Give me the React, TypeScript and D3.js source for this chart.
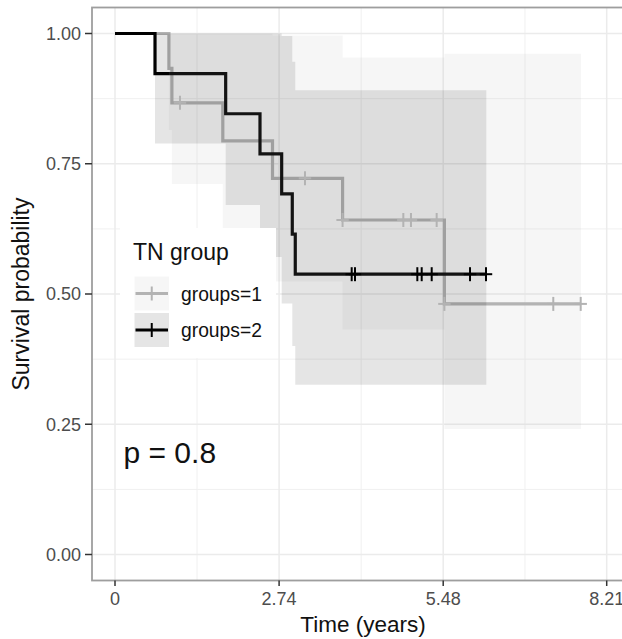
import React from "react";
import * as d3 from "d3";

// Kaplan–Meier estimates per TN group (time in years)
const group1Times = [0, 0.9, 0.95, 1.8, 2.63, 3.8, 5.5, 7.78];
const group1Surv = [1, 0.933, 0.867, 0.794, 0.722, 0.642, 0.481, 0.481];
const group1Lower = [1, 0.815, 0.711, 0.612, 0.524, 0.432, 0.241, 0.241];
const group1Upper = [1, 1, 1, 1, 0.996, 0.954, 0.961, 0.961];
const group1Censor = [1.085, 3.172, 3.8, 4.814, 4.942, 5.371, 5.5, 7.318, 7.776];

const group2Times = [0, 0.668, 1.848, 2.421, 2.783, 2.96, 3.01, 6.2];
const group2Surv = [1, 0.923, 0.846, 0.769, 0.692, 0.615, 0.538, 0.538];
const group2Lower = [1, 0.789, 0.671, 0.571, 0.482, 0.4, 0.326, 0.326];
const group2Upper = [1, 1, 1, 1, 0.995, 0.946, 0.891, 0.891];
const group2Censor = [3.952, 4.007, 5.048, 5.121, 5.288, 5.928, 6.195];

const xBreaks = [0, 2.74, 5.48, 8.21];
const xMinor = [1.37, 4.11, 6.845];
const yBreaks = [0, 0.25, 0.5, 0.75, 1];
const yMinor = [0.125, 0.375, 0.625, 0.875];
const xTickLabels = ["0", "2.74", "5.48", "8.21"];
const yTickLabels = ["0.00", "0.25", "0.50", "0.75", "1.00"];

const legendTitle = "TN group";
const groupLabels = ["groups=1", "groups=2"];
const pValueLabel = "p = 0.8";

const W = 622;
const H = 639;
const panel = { left: 92, top: 7.5, right: 640, bottom: 580.5 };
const FONT = "'Liberation Sans', Arial, Helvetica, sans-serif";

const colors = ["#b3b3b3", "#000000"];

type Row = { t: number; s: number; lo: number; hi: number };

function rows(times: number[], surv: number[], lo: number[], hi: number[]): Row[] {
  return times.map((t, i) => ({ t, s: surv[i], lo: lo[i], hi: hi[i] }));
}

function survAt(times: number[], surv: number[], t: number) {
  let v = surv[0];
  for (let i = 0; i < times.length; i++) if (times[i] <= t + 1e-9) v = surv[i];
  return v;
}

export default function App() {
  const x = d3.scaleLinear().domain([0, 8.21]).range([115, 606.7]);
  const y = d3.scaleLinear().domain([0, 1]).range([554.5, 33.5]);

  const groups = [
    { data: rows(group1Times, group1Surv, group1Lower, group1Upper), times: group1Times, surv: group1Surv, censor: group1Censor, color: colors[0], fillOpacity: 0.12 },
    { data: rows(group2Times, group2Surv, group2Lower, group2Upper), times: group2Times, surv: group2Surv, censor: group2Censor, color: colors[1], fillOpacity: 0.1 },
  ];

  const line = d3
    .line<Row>()
    .x((d) => x(d.t))
    .y((d) => y(d.s))
    .curve(d3.curveStepAfter);
  const area = d3
    .area<Row>()
    .x((d) => x(d.t))
    .y0((d) => y(d.lo))
    .y1((d) => y(d.hi))
    .curve(d3.curveStepAfter);

  const cs = 6.2; // censor mark half size
  const plus = (cx: number, cy: number, color: string, key: string) => (
    <g key={key} stroke={color} strokeWidth={2}>
      <line x1={cx - cs} x2={cx + cs} y1={cy} y2={cy} />
      <line x1={cx} x2={cx} y1={cy - cs - 0.8} y2={cy + cs + 0.8} />
    </g>
  );

  const legend = { left: 120, top: 228, right: 276, bottom: 358 };
  const keyX0 = 134.5;
  const keyW = 34.5;
  const keyTops = [276.5, 313];
  const keyH = 34;

  return (
    <svg
      width={W}
      height={H}
      style={{ position: "absolute", left: 0, top: 0, background: "#fff" }}
      fontFamily={FONT}
    >
      <defs>
        <clipPath id="panel-clip">
          <rect x={panel.left} y={panel.top} width={panel.right - panel.left} height={panel.bottom - panel.top} />
        </clipPath>
      </defs>
      <rect x={0} y={0} width={W} height={H} fill="#fff" />

      <g clipPath="url(#panel-clip)">
        {/* grid */}
        {yMinor.map((v) => (
          <line key={"ym" + v} x1={panel.left} x2={panel.right} y1={y(v)} y2={y(v)} stroke="#f0f0f0" strokeWidth={1} />
        ))}
        {xMinor.map((v) => (
          <line key={"xm" + v} y1={panel.top} y2={panel.bottom} x1={x(v)} x2={x(v)} stroke="#f0f0f0" strokeWidth={1} />
        ))}
        {yBreaks.map((v) => (
          <line key={"yg" + v} x1={panel.left} x2={panel.right} y1={y(v)} y2={y(v)} stroke="#ebebeb" strokeWidth={1.5} />
        ))}
        {xBreaks.map((v) => (
          <line key={"xg" + v} y1={panel.top} y2={panel.bottom} x1={x(v)} x2={x(v)} stroke="#ebebeb" strokeWidth={1.5} />
        ))}

        {/* survival curves */}
        {groups.map((g, i) => (
          <path key={"l" + i} d={line(g.data) || ""} fill="none" stroke={g.color} strokeWidth={3.2} />
        ))}
        {/* confidence bands */}
        {groups.map((g, i) => (
          <path key={"a" + i} d={area(g.data) || ""} fill={g.color} fillOpacity={g.fillOpacity} stroke="none" />
        ))}
        {/* censoring marks */}
        {groups.map((g, i) =>
          g.censor.map((t, j) => plus(x(t), y(survAt(g.times, g.surv, t)), g.color, `c${i}-${j}`))
        )}

        {/* legend */}
        <rect x={legend.left} y={legend.top} width={legend.right - legend.left} height={legend.bottom - legend.top} fill="#fff" />
        <text x={133} y={260} fontSize={23} fill="#111">
          {legendTitle}
        </text>
        {groups.map((g, i) => {
          const cy = keyTops[i] + keyH / 2;
          const cx = keyX0 + keyW / 2;
          return (
            <g key={"k" + i}>
              <rect x={keyX0} y={keyTops[i]} width={keyW} height={keyH} fill={g.color} fillOpacity={g.fillOpacity} />
              <line x1={keyX0 + 1} x2={keyX0 + keyW - 1} y1={cy} y2={cy} stroke={g.color} strokeWidth={3.2} />
              <line x1={cx} x2={cx} y1={cy - cs - 0.8} y2={cy + cs + 0.8} stroke={g.color} strokeWidth={2} />
              <text x={181} y={cy + 7} fontSize={19.3} fill="#111">
                {groupLabels[i]}
              </text>
            </g>
          );
        })}

        {/* log-rank p-value */}
        <text x={123.5} y={463} fontSize={30} fill="#111">
          {pValueLabel}
        </text>
      </g>

      {/* panel border */}
      <rect
        x={panel.left}
        y={panel.top}
        width={panel.right - panel.left}
        height={panel.bottom - panel.top}
        fill="none"
        stroke="#9e9e9e"
        strokeWidth={1.8}
      />

      {/* y axis */}
      {yBreaks.map((v, i) => (
        <g key={"yt" + v}>
          <line x1={85} x2={panel.left} y1={y(v)} y2={y(v)} stroke="#333" strokeWidth={1.5} />
          <text x={81} y={y(v) + 6.3} textAnchor="end" fontSize={18} fill="#4d4d4d">
            {yTickLabels[i]}
          </text>
        </g>
      ))}
      {/* x axis */}
      {xBreaks.map((v, i) => (
        <g key={"xt" + v}>
          <line x1={x(v)} x2={x(v)} y1={panel.bottom} y2={panel.bottom + 5.5} stroke="#333" strokeWidth={1.5} />
          <text x={x(v)} y={605} textAnchor="middle" fontSize={18} fill="#4d4d4d">
            {xTickLabels[i]}
          </text>
        </g>
      ))}

      <text x={363} y={632} textAnchor="middle" fontSize={22.5} fill="#111">
        Time (years)
      </text>
      <text
        transform={`translate(29, ${(panel.top + panel.bottom) / 2}) rotate(-90)`}
        textAnchor="middle"
        fontSize={23}
        fill="#111"
      >
        Survival probability
      </text>
    </svg>
  );
}
